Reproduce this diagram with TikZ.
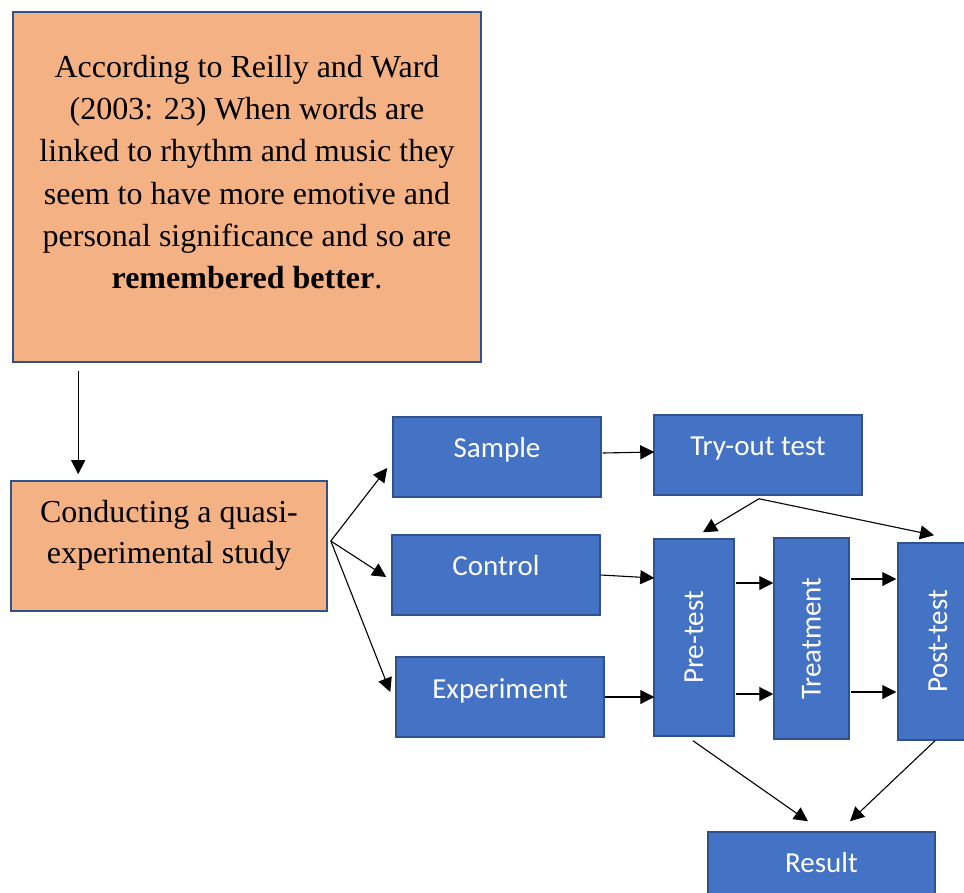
\documentclass[tikz,border=0pt]{standalone}
\usepackage{fontspec}
\setmainfont{Liberation Serif}
\newfontfamily\calfont{Carlito}
\usetikzlibrary{arrows.meta,calc}
\definecolor{boxblue}{HTML}{4472C4}
\definecolor{edgeblue}{HTML}{2F528F}
\definecolor{peach}{HTML}{F4B183}
\tikzset{
  bluebox/.style={draw=edgeblue, line width=1.5pt, fill=boxblue, text=white, inner xsep=0pt, inner ysep=0pt,
    font=\calfont\fontsize{29}{34}\selectfont},
  topbox/.style={bluebox, text height=40.5pt, text depth=39.5pt},
  vbox/.style={bluebox},
  peachbox/.style={draw=edgeblue, line width=1.6pt, fill=peach, inner sep=0pt},
  conn/.style={line width=1.1pt, -{Triangle[length=14pt,width=14pt]}}
}
\begin{document}
\begin{tikzpicture}[x=1pt,y=-1pt]
\useasboundingbox (0,0) rectangle (964,892);
\clip (0,0) rectangle (964,892);
\fill[white] (0,0) rectangle (964,892);

\node[peachbox, minimum width=468pt, minimum height=350pt] (quote) at (247,187)
 {\begin{minipage}[c][350pt][t]{460pt}\centering\fontsize{32}{42.2}\selectfont
 \vspace*{36pt}
 \strut According to Reilly and Ward\\
 (2003: 23) When words are\\
 linked to rhythm and music they\\
 seem to have more emotive and\\
 personal significance and so are\\
 \textbf{remembered better}.
 \end{minipage}};

\node[peachbox, minimum width=316pt, minimum height=130pt] (conduct) at (169,546)
 {\begin{minipage}[c][130pt][t]{310pt}\centering\fontsize{32}{41}\selectfont
 \vspace*{12.3pt}
 \strut Conducting a quasi-\\experimental study
 \end{minipage}};

\node[topbox, minimum width=208pt] (sample) at (497,457) {Sample};
\node[topbox, minimum width=208pt] (tryout) at (758,455) {Try-out test};
\node[topbox, minimum width=208pt] (control) at (496,575) {Control};
\node[topbox, minimum width=208pt, text height=41.5pt, text depth=38.5pt] (experiment) at (500,697) {Experiment};
\node[vbox, minimum width=80pt, minimum height=197pt] (pre) at (694,637.5) {\rotatebox{90}{Pre-test}};
\node[vbox, minimum width=75pt, minimum height=201pt] (treat) at (811.5,638.5) {\rotatebox{90}{Treatment}};
\node[vbox, minimum width=80pt, minimum height=197pt] (post) at (938,641.5) {\rotatebox{90}{Post-test}};
\node[topbox, minimum width=227pt] (result) at (821.5,872) {Result};

\draw[conn] ($(quote.south west)+(66,8)$) -- ($(conduct.north west)+(68,-6)$);

\draw[conn] ($(conduct.east)+(3,-5)$) -- ($(sample.west)+(-5,11)$);
\draw[conn] ($(conduct.east)+(3,-5)$) -- ($(control.west)+(-5,2)$);
\draw[conn] ($(conduct.east)+(3,-5)$) -- ($(experiment.west)+(-5,-5)$);

\draw[conn] ($(sample.east)+(1,-4)$) -- ($(tryout.west)+(1,-3)$);
\draw[conn] (control.east) -- ($(pre.west)+(1,-59.5)$);
\draw[conn] (experiment.east) -- ($(pre.west)+(1,59.5)$);

\draw[conn] ($(tryout.south)+(1,3)$) -- ($(pre.north)+(9,-6)$);
\draw[conn] ($(tryout.south)+(1,3)$) -- ($(post.north)+(-4,-7)$);

\draw[conn] ($(pre.east)+(1,-54.5)$) -- ($(treat.west)+(0,-55.5)$);
\draw[conn] ($(pre.east)+(1,56.5)$) -- ($(treat.west)+(0,55.5)$);
\draw[conn] ($(treat.east)+(1,-59.5)$) -- ($(post.west)+(-1,-62.5)$);
\draw[conn] ($(treat.east)+(1,53.5)$) -- ($(post.west)+(-1,50.5)$);

\draw[conn] ($(pre.south)+(-1,4)$) -- ($(result.north)+(-13.5,-10)$);
\draw[conn] ($(post.south)+(-3,0)$) -- ($(result.north)+(28.5,-10)$);
\end{tikzpicture}
\end{document}
